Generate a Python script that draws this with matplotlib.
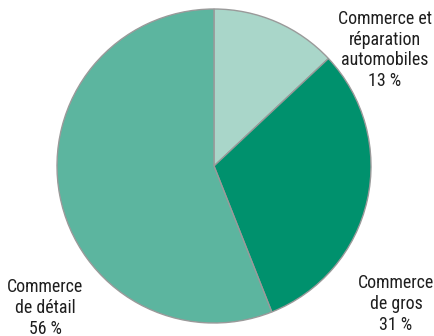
import matplotlib.pyplot as plt

# shares of the trade sector
labels = ["Commerce et\nréparation\nautomobiles\n13 %", "Commerce\nde gros\n31 %", "Commerce\nde détail\n56 %"]
shares = [13, 31, 56]
colors = ["#a9d6c9", "#00916d", "#5cb59f"]

# label anchor points (pixels from top-left)
label_pos = [(385, 50), (396, 304), (45, 308)]

plt.rcParams["font.family"] = ["Roboto Condensed", "Liberation Sans", "DejaVu Sans"]

W, H = 435, 336
fig = plt.figure(figsize=(W / 100, H / 100), dpi=100)
ax = fig.add_axes([0, 0, 1, 1])

ax.pie(
    shares,
    colors=colors,
    startangle=90,
    counterclock=False,
    center=(214, H - 166),
    radius=157,
    frame=True,
    wedgeprops=dict(edgecolor="#9a9a9a", linewidth=1.0),
)
ax.set_xlim(0, W)
ax.set_ylim(0, H)
ax.set_aspect("equal")
ax.axis("off")

for text, (px, py) in zip(labels, label_pos):
    ax.text(px, H - py, text, ha="center", va="center", fontsize=12.9,
            linespacing=1.2, color="#1e1e1e")

fig.savefig("out.png", dpi=100)
